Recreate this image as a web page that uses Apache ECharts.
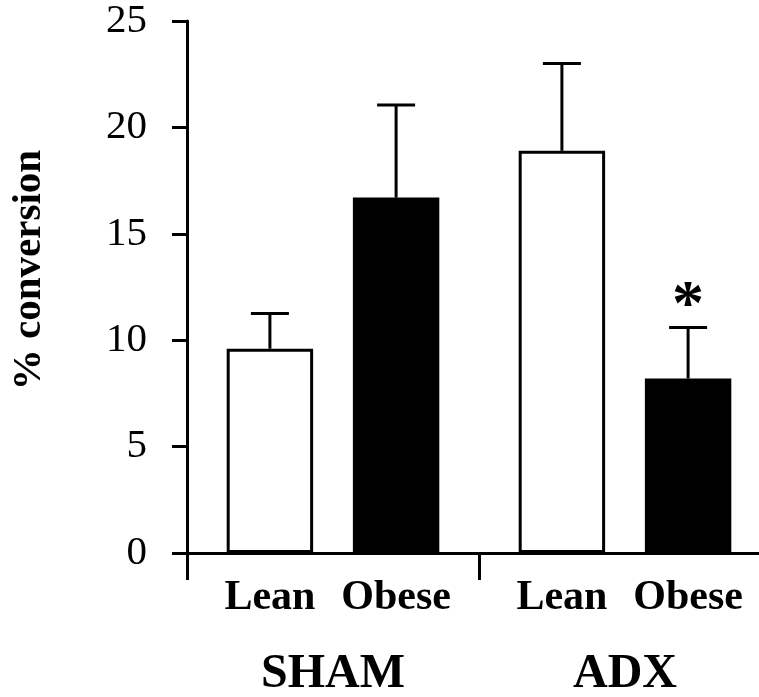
<!DOCTYPE html>
<html>
<head>
<meta charset="utf-8">
<script src="https://cdn.jsdelivr.net/npm/echarts@6/dist/echarts.min.js"></script>
<style>
  html, body { margin: 0; padding: 0; background: #fff; overflow: hidden; }
  #chart { width: 759px; height: 697px; }
</style>
</head>
<body>
<div id="chart"></div>
<script>
// Groups along the x axis and the two bar series within each group
const groups = ['SHAM', 'ADX'];
const leanMean = [9.6, 18.9];
const leanErr = [1.65, 4.1];
const obeseMean = [16.7, 8.2];
const obeseErr = [4.35, 2.4];
const obeseMarks = ['', '*'];
const yTicks = [0, 5, 10, 15, 20, 25];

const FONT = 'Liberation Serif';
const BAR_W = 0.296;   // fraction of a category
const BAR_GAP = 0.46;  // fraction of a bar width

const chart = echarts.init(document.getElementById('chart'), null, { renderer: 'canvas' });

// Upper-only error whiskers, placed over the bar of the given side (-1 lean, +1 obese)
function whisker(side, means, errs, marks) {
  return {
    type: 'custom',
    z: 5,
    clip: false,
    data: means.map((m, i) => [i, m, m + errs[i], marks ? marks[i] : '']),
    renderItem: function (params, api) {
      const catW = api.size([1, 0])[0];
      const bw = catW * BAR_W;
      const off = side * (bw + bw * BAR_GAP) / 2;
      const base = api.coord([api.value(0), api.value(1)]);
      const top = api.coord([api.value(0), api.value(2)]);
      const x = base[0] + off;
      const cap = 19;
      const children = [
        { type: 'line', shape: { x1: x, y1: base[1], x2: x, y2: top[1] },
          style: { stroke: '#000', lineWidth: 3 } },
        { type: 'line', shape: { x1: x - cap, y1: top[1], x2: x + cap, y2: top[1] },
          style: { stroke: '#000', lineWidth: 3 } }
      ];
      const mark = api.value(3);
      if (mark) {
        children.push({ type: 'text', style: {
          x: x, y: top[1] + 12, text: mark, fill: '#000',
          font: 'bold 64px "' + FONT + '"', align: 'center', verticalAlign: 'bottom'
        }});
      }
      return { type: 'group', children: children };
    }
  };
}

const catLabel = {
  show: true, position: 'bottom', distance: 24,
  formatter: '{a}', color: '#000',
  fontFamily: FONT, fontWeight: 'bold', fontSize: 42
};

chart.setOption({
  backgroundColor: '#fff',
  animation: false,
  grid: { left: 187, width: 584, top: 21, bottom: 144, outerBoundsMode: 'none', containLabel: false },
  xAxis: {
    type: 'category',
    data: groups,
    axisLine: { lineStyle: { color: '#000', width: 3 } },
    axisTick: { show: true, length: 27, lineStyle: { color: '#000', width: 3 } },
    axisLabel: { margin: 98, color: '#000', fontFamily: FONT, fontWeight: 'bold', fontSize: 48 }
  },
  yAxis: {
    type: 'value',
    min: yTicks[0], max: yTicks[yTicks.length - 1], interval: 5,
    name: '% conversion',
    nameLocation: 'middle',
    nameGap: 137,
    nameTextStyle: { color: '#000', fontFamily: FONT, fontWeight: 'bold', fontSize: 41, padding: [0, 0, 0, 34] },
    axisLine: { show: true, lineStyle: { color: '#000', width: 3 } },
    axisTick: { show: true, length: 15, lineStyle: { color: '#000', width: 3 } },
    axisLabel: { margin: 40, color: '#000', fontFamily: FONT, fontSize: 41 },
    splitLine: { show: false }
  },
  series: [
    {
      name: 'Lean', type: 'bar', data: leanMean,
      barWidth: (BAR_W * 100) + '%', barGap: (BAR_GAP * 100) + '%',
      itemStyle: { color: '#fff', borderColor: '#000', borderWidth: 3 },
      label: catLabel
    },
    {
      name: 'Obese', type: 'bar', data: obeseMean,
      barWidth: (BAR_W * 100) + '%', barGap: (BAR_GAP * 100) + '%',
      itemStyle: { color: '#000', borderColor: '#000', borderWidth: 3 },
      label: catLabel
    },
    whisker(-1, leanMean, leanErr),
    whisker(1, obeseMean, obeseErr, obeseMarks)
  ]
});
</script>
</body>
</html>
